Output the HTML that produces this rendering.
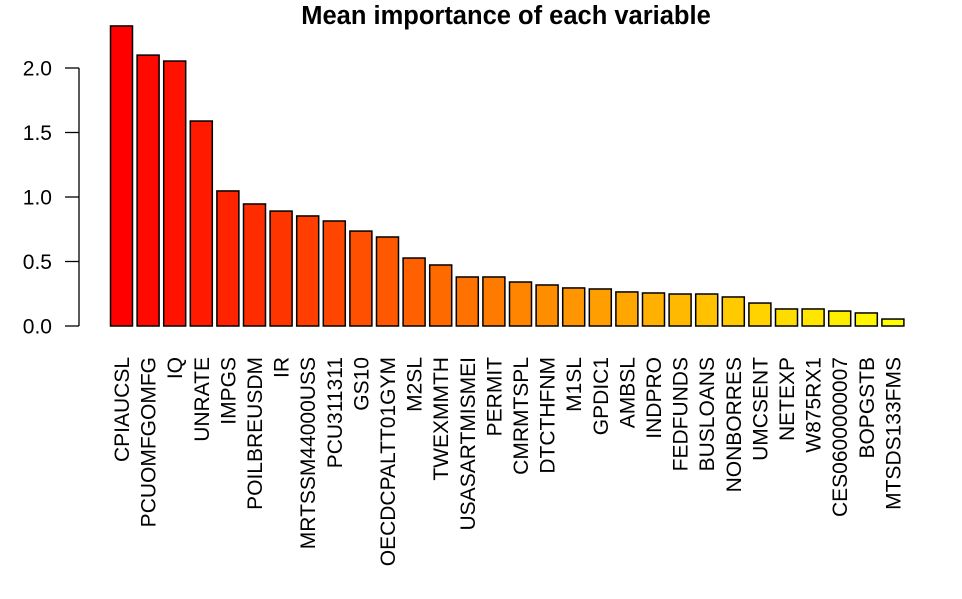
<!DOCTYPE html>
<html><head><meta charset="utf-8"><style>
html,body{margin:0;padding:0;background:#fff;}
svg text{font-family:"Liberation Sans",Arial,sans-serif;}
</style></head><body>
<svg id="chart" width="962" height="594" xmlns="http://www.w3.org/2000/svg">
<text x="506" y="24" text-anchor="middle" font-size="25.5" font-weight="bold">Mean importance of each variable</text>
<g id="yaxis"></g>
<g id="bars"></g>
<g id="xlabels"></g>
</svg>
<script>
const categories = ["CPIAUCSL","PCUOMFGOMFG","IQ","UNRATE","IMPGS","POILBREUSDM","IR","MRTSSM44000USS","PCU311311","GS10","OECDCPALTT01GYM","M2SL","TWEXMMTH","USASARTMISMEI","PERMIT","CMRMTSPL","DTCTHFNM","M1SL","GPDIC1","AMBSL","INDPRO","FEDFUNDS","BUSLOANS","NONBORRES","UMCSENT","NETEXP","W875RX1","CES0600000007","BOPGSTB","MTSDS133FMS"];
const values = [2.326,2.10,2.054,1.589,1.047,0.946,0.891,0.853,0.814,0.736,0.69,0.527,0.473,0.38,0.38,0.341,0.318,0.295,0.287,0.264,0.256,0.248,0.248,0.225,0.178,0.132,0.132,0.116,0.101,0.054];
const yTicks = [0,0.5,1,1.5,2];
const yTickLabels = ["0.0","0.5","1.0","1.5","2.0"];

const NS="http://www.w3.org/2000/svg";
const y0=326, pxPerUnit=129, x0=110.5, step=26.6, bw=22;
function yScale(v){return y0 - v*pxPerUnit;}
function xScale(i){return x0 + i*step;}
function mk(tag,attrs){const e=document.createElementNS(NS,tag);for(const k in attrs)e.setAttribute(k,attrs[k]);return e;}

const ya=document.getElementById('yaxis');
const axl=mk('line',{x1:79,x2:79,y1:yScale(yTicks[0]),y2:yScale(yTicks[yTicks.length-1]),stroke:'#000','stroke-width':1.3});


ya.appendChild(axl);
yTicks.forEach((t,i)=>{
  const tk=mk('line',{x1:65,x2:79,y1:yScale(t),y2:yScale(t),stroke:'#000','stroke-width':1.3});
  
  
  ya.appendChild(tk);
  const tx=mk('text',{x:52,y:yScale(t)+7.5,'text-anchor':'end','font-size':21});
  
  
  tx.textContent=yTickLabels[i];
  ya.appendChild(tx);
});

const bars=document.getElementById('bars'), xl=document.getElementById('xlabels');
const n=values.length;
values.forEach((v,i)=>{
  const hue = n>1 ? 60*i/(n-1) : 0;
  const r=mk('rect',{x:xScale(i),y:yScale(v),width:bw,height:y0-yScale(v),fill:'hsl('+hue+',100%,50%)',stroke:'#000','stroke-width':1.5});
  
  
  bars.appendChild(r);
  const cx=xScale(i)+bw/2+7.5, ty=357;
  const t=mk('text',{x:cx,y:ty,'text-anchor':'end','font-size':21,transform:'rotate(-90 '+cx+' '+ty+')'});
  
  
  t.textContent=categories[i];
  xl.appendChild(t);
});
</script>
</body></html>
